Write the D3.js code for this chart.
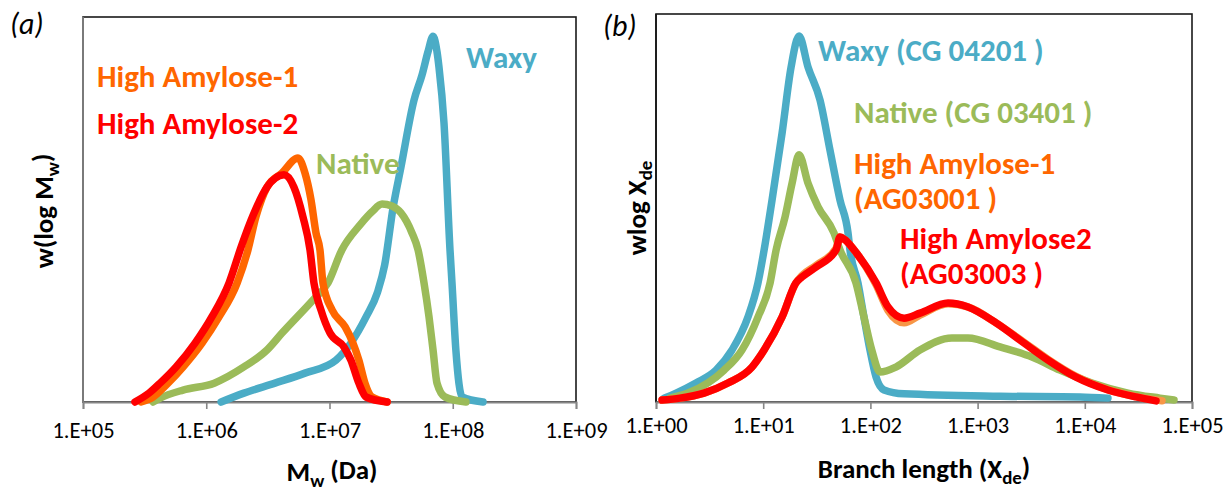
<!DOCTYPE html>
<html><head><meta charset="utf-8">
<script src="https://cdn.jsdelivr.net/npm/d3@7"></script>
<style>
body{margin:0;background:#fff;}
text{font-family:Carlito,Calibri,Lato,sans-serif;}
</style></head>
<body><svg id="c" width="1226" height="491"></svg>
<script>
// ---------- Panel (a): Mw distributions (x = Mw in Da, y = relative w(log Mw)) ----------
const aTicks = [1e5, 1e6, 1e7, 1e8, 1e9];
const aTickLabels = ["1.E+05", "1.E+06", "1.E+07", "1.E+08", "1.E+09"];
const aWaxy = [[1.32e6,0],[2.02e6,2.3],[3.61e6,4.9],[6.32e6,7.5],[1.13e7,10.9],[1.49e7,15.3],[1.98e7,22.1],[2.45e7,28.5],[2.80e7,35.5],[3.28e7,50.5],[3.80e7,61.0],[4.85e7,78.4],[5.64e7,85],[6.30e7,91],[6.92e7,95],[7.45e7,91],[7.73e7,87],[8.49e7,72.5],[9.50e7,39.5],[9.86e7,30.9],[1.06e8,13.5],[1.19e8,1.3],[1.76e8,0]];
const aNative = [[3.70e5,0],[4.22e5,1.0],[6.48e5,3.1],[1.16e6,4.9],[2.02e6,9.1],[3.11e6,13.5],[4.12e6,17.9],[7.35e6,26.5],[9.72e6,30.9],[1.26e7,39.5],[1.77e7,46],[2.21e7,49.4],[2.67e7,51.4],[3.21e7,50.9],[3.80e7,49.1],[4.67e7,43.9],[5.23e7,39.5],[5.85e7,30.9],[6.42e7,22.1],[6.92e7,13.5],[7.45e7,4.9],[8.65e7,1.3],[1.28e8,0]];
const aHA1 = [[2.96e5,0],[3.70e5,1.3],[4.90e5,4.9],[6.48e5,9.1],[9.25e5,15.3],[1.27e6,22.1],[1.78e6,30.9],[2.18e6,39.5],[2.53e6,48.1],[3.11e6,55.8],[4.12e6,59.5],[5.55e6,63.4],[6.32e6,59.5],[7.08e6,52.5],[7.77e6,43.9],[8.37e6,39.5],[8.85e6,30.9],[1.05e7,23.9],[1.34e7,19.5],[1.55e7,15.3],[1.73e7,10.9],[1.94e7,4.9],[2.21e7,1.3],[2.93e7,0]];
const aHA2 = [[2.64e5,0],[3.43e5,2.3],[4.22e5,4.9],[5.69e5,9.1],[8.11e5,15.3],[1.11e6,22.1],[1.53e6,30.9],[1.93e6,40.5],[2.40e6,48.5],[3.11e6,55.8],[4.28e6,59.0],[5.15e6,55.8],[6.09e6,48.1],[6.95e6,39.5],[7.48e6,30.9],[8.53e6,23.9],[1.01e7,17.9],[1.31e7,14.3],[1.49e7,10.9],[1.73e7,4.9],[1.98e7,1.3],[2.93e7,0]];

// ---------- Panel (b): branch length distributions (x = Xde, y = relative wlog Xde) ----------
const bTicks = [1, 10, 100, 1000, 10000, 100000];
const bTickLabels = ["1.E+00", "1.E+01", "1.E+02", "1.E+03", "1.E+04", "1.E+05"];
const bWaxy = [[1.19,1.0],[1.54,2.3],[2.36,4.9],[3.63,8.2],[5.12,13.4],[7.21,21.9],[8.94,30.7],[10.2,39.2],[12.1,52.1],[15.0,69.3],[18.2,86.3],[21.6,94.3],[26.2,86.3],[33.9,77.8],[42.0,64.9],[52.0,52.1],[61.8,43.6],[64.5,39.2],[76.6,30.7],[87.1,21.9],[99.1,13.4],[113,6.4],[134,3.1],[206,2.1],[1618,1.5],[9025,1.3],[16450,1.0]];
const bNative = [[1.35,1.0],[1.99,2.3],[3.05,4.9],[4.31,8.2],[6.34,13.4],[8.94,21.9],[11.6,30.7],[13.2,39.2],[16.0,47.7],[18.6,56.4],[21.6,63.7],[26.2,56.4],[32.5,50.3],[45.7,43.6],[52.0,39.2],[73.4,30.7],[87.1,21.9],[103,13.4],[123,7.7],[173,9.0],[290,13.4],[577,16.5],[813,16.5],[1618,14.2],[3217,11.6],[5875,8.2],[11670,4.9],[25270,2.3],[50250,1.0],[67920,0.5]];
const bHA1 = [[1.14,0.5],[1.67,1.0],[2.80,2.3],[4.69,4.9],[7.86,9.0],[10.2,13.4],[15.0,21.9],[20.2,30.7],[23.0,32.6],[31.1,35.2],[47.8,39.6],[52.0,42.5],[58.0,41.8],[70.3,39.2],[113,30.2],[146,23.6],[206,20.4],[290,22.4],[530,25.3],[813,24.5],[1486,20.4],[2710,15.4],[4538,11.0],[8283,6.6],[16450,3.2],[30040,1.4],[52480,0.3]];
const bHA2 = [[1.14,0.5],[1.67,1.0],[2.80,2.3],[4.69,4.9],[7.86,9.0],[10.2,13.4],[15.0,21.9],[20.2,30.7],[23.0,32.2],[31.1,34.8],[47.8,39.2],[52.0,42.5],[58.0,41.8],[70.3,39.2],[113,30.7],[146,24.5],[206,21.6],[290,22.9],[530,25.5],[813,24.5],[1486,20.4],[2710,15.2],[4538,10.8],[8283,6.4],[16450,3.1],[30040,1.3],[46160,0.3]];

const C = {blue:"#4BACC6", green:"#9BBB59", orange:"#FF6600", orangeB:"#F79646", red:"#FF0000"};
const FONT = "Carlito,Calibri,Lato,sans-serif";

const svg = d3.select("#c");

function panel(o){
  const x = d3.scaleLog().domain(o.xdom).range(o.xr);
  const y = d3.scaleLinear().domain([0,100]).range(o.yr);
  const g = svg.append("g");
  g.append("rect").attr("x",o.xr[0]).attr("y",o.yr[1]).attr("width",o.xr[1]-o.xr[0]).attr("height",o.yr[0]-o.yr[1])
    .attr("fill","none").attr("stroke","#1a1a1a").attr("stroke-width",1.6);
  g.append("line").attr("x1",o.xr[0]).attr("x2",o.xr[0]).attr("y1",o.yr[0]).attr("y2",o.yr[1])
    .attr("stroke",o.leftColor).attr("stroke-width",1.8);
  const ax = g.append("g").attr("transform",`translate(0,${o.yr[0]})`)
    .call(d3.axisBottom(x).tickValues(o.ticks).tickFormat((d,i)=>o.tickLabels[i]).tickSize(7).tickPadding(o.pad));
  ax.select(".domain").attr("stroke","#868686").attr("stroke-width",1.8);
  ax.selectAll(".tick line").attr("stroke","#868686").attr("stroke-width",1.6);
  ax.selectAll(".tick text").attr("font-size",22.5).attr("fill","#000").style("font-family",FONT);
  const line = d3.line().x(d=>x(d[0])).y(d=>y(d[1])).curve(d3.curveMonotoneX);
  o.series.forEach(s=>{
    g.append("path").datum(s.data).attr("d",line).attr("fill","none")
      .attr("stroke",s.color).attr("stroke-width",7.5).attr("stroke-linejoin","round").attr("stroke-linecap","round");
  });
  return g;
}

panel({xdom:[1e5,1e9], xr:[83,576], yr:[402,17], ticks:aTicks, tickLabels:aTickLabels, pad:13, leftColor:"#808080",
  series:[{data:aWaxy,color:C.blue},{data:aNative,color:C.green},{data:aHA1,color:C.orange},{data:aHA2,color:C.red}]});
panel({xdom:[1,1e5], xr:[656,1192], yr:[402,14], ticks:bTicks, tickLabels:bTickLabels, pad:8, leftColor:"#1a1a1a",
  series:[{data:bWaxy,color:C.blue},{data:bNative,color:C.green},{data:bHA1,color:C.orangeB},{data:bHA2,color:C.red}]});

function label(t,x,y,color){
  svg.append("text").attr("x",x).attr("y",y).attr("fill",color).attr("font-size",31).attr("font-weight","bold").text(t);
}
label("High Amylose-1",97,87,C.orange);
label("High Amylose-2",97,134,C.red);
label("Native",316,174,C.green);
label("Waxy",466,68,C.blue);
label("Waxy (CG 04201 )",818,61,C.blue);
label("Native (CG 03401 )",854,123,C.green);
label("High Amylose-1",854,174,C.orange);
label("(AG03001 )",854,209,C.orange);
label("High Amylose2",900,249,C.red);
label("(AG03003 )",900,284,C.red);

svg.append("text").attr("x",10).attr("y",34).attr("font-size",30).attr("font-style","italic").text("(a)");
svg.append("text").attr("x",603).attr("y",36).attr("font-size",30).attr("font-style","italic").text("(b)");

function sub(el, main, s, tail){
  el.append("tspan").text(main);
  el.append("tspan").attr("font-size","0.7em").attr("dy","0.3em").text(s);
  if(tail!==undefined) el.append("tspan").attr("dy","-0.3em").text(tail);
}
let t = svg.append("text").attr("x",332).attr("y",481).attr("text-anchor","middle").attr("font-size",27).attr("font-weight","bold");
sub(t,"M","w"," (Da)");
t = svg.append("text").attr("x",924).attr("y",478).attr("text-anchor","middle").attr("font-size",27).attr("font-weight","bold");
sub(t,"Branch length (X","de",")");
t = svg.append("text").attr("transform","translate(53,211) rotate(-90)").attr("text-anchor","middle").attr("font-size",27).attr("font-weight","bold");
sub(t,"w(log M","w",")");
t = svg.append("text").attr("transform","translate(646,208) rotate(-90)").attr("text-anchor","middle").attr("font-size",27).attr("font-weight","bold");
sub(t,"wlog X","de");
</script></body></html>
